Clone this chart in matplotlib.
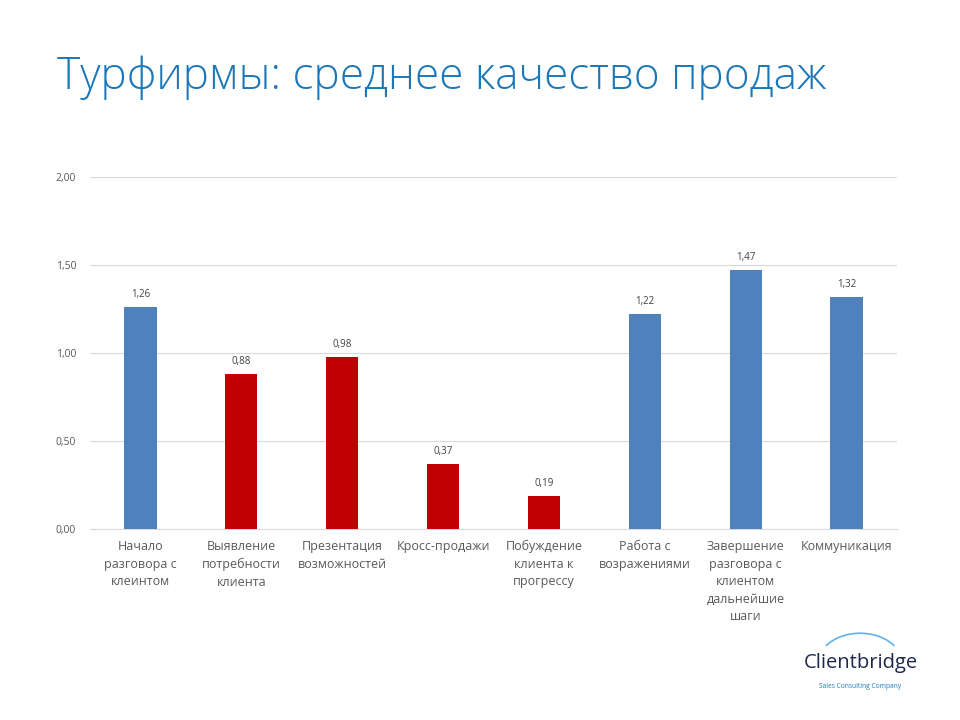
import matplotlib.pyplot as plt
import matplotlib.patches as mpatches
import numpy as np

categories = ['Начало\nразговора с\nклеинтом', 'Выявление\nпотребности\nклиента',
              'Презентация\nвозможностей', 'Кросс-продажи',
              'Побуждение\nклиента к\nпрогрессу', 'Работа с\nвозражениями',
              'Завершение\nразговора с\nклиентом\nдальнейшие\nшаги', 'Коммуникация']
values = [1.26, 0.88, 0.98, 0.37, 0.19, 1.22, 1.47, 1.32]
colors = ['#4f81bd', '#c00000', '#c00000', '#c00000', '#c00000', '#4f81bd', '#4f81bd', '#4f81bd']
yticks = [0.0, 0.5, 1.0, 1.5, 2.0]

plt.rcParams['font.family'] = ['Open Sans', 'DejaVu Sans']

fig = plt.figure(figsize=(9.6, 7.2), dpi=100)
ax = fig.add_axes([0.09375, 0.2653, 0.8406, 0.4889])

x = np.arange(len(categories))
ax.bar(x, values, width=0.32, color=colors, zorder=3)
for xi, v in zip(x, values):
    ax.annotate(f'{v:.2f}'.replace('.', ','), (xi, v), xytext=(0, 5), textcoords='offset points',
                ha='center', va='bottom', fontsize=7, color='#404040')

ax.set_xlim(-0.5, 7.5)
ax.set_ylim(0, 2)
ax.set_yticks(yticks)
ax.set_yticklabels([f'{t:.2f}'.replace('.', ',') for t in yticks], fontsize=7.5, color='#595959')
ax.set_xticks(x)
ax.set_xticklabels(categories, fontsize=9, color='#595959', linespacing=1.45)
ax.yaxis.grid(True, color='#d9d9d9', linewidth=0.8, zorder=0)
ax.tick_params(axis='both', length=0, pad=10)
ax.tick_params(axis='x', pad=8)
for s in ['top', 'right', 'left']:
    ax.spines[s].set_visible(False)
ax.spines['bottom'].set_color('#d9d9d9')

fig.text(0.059, 0.892, 'Турфирмы: среднее качество продаж', fontsize=31.8, color='#1a77b8',
         fontweight='light', va='center', ha='left')

# logo
arc = mpatches.Arc((0.896, 0.078), 0.088, 0.085, theta1=35, theta2=145, transform=fig.transFigure,
                   color='#5fb3e6', linewidth=1.2)
fig.add_artist(arc)
fig.text(0.897, 0.079, 'Clientbridge', fontsize=14.5, color='#1f2650', ha='center', va='center')
fig.text(0.896, 0.047, 'Sales Consulting Company', fontsize=4.8, color='#1a7dc0', ha='center', va='center')

fig.savefig('out.png', dpi=100)
